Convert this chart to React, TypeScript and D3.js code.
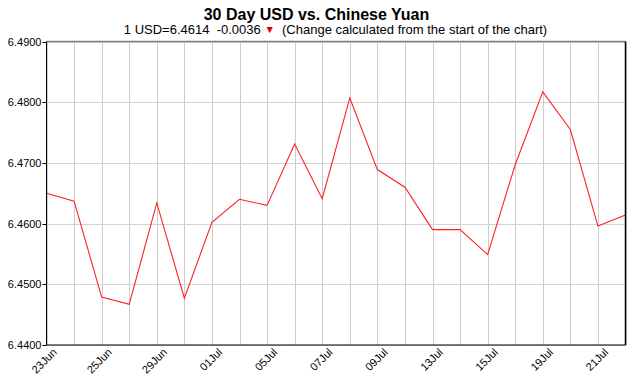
import React from "react";
import * as d3 from "d3";

const dates = ["23Jun","24Jun","25Jun","28Jun","29Jun","30Jun","01Jul","02Jul","05Jul","06Jul","07Jul","08Jul","09Jul","12Jul","13Jul","14Jul","15Jul","16Jul","19Jul","20Jul","21Jul","22Jul"];
const rates = [6.4650,6.4637,6.4479,6.4467,6.4634,6.4477,6.4602,6.4640,6.4630,6.4731,6.4641,6.4807,6.4689,6.4660,6.4590,6.4590,6.4549,6.4697,6.4817,6.4755,6.4596,6.4614];
const labeledDates = ["23Jun","25Jun","29Jun","01Jul","05Jul","07Jul","09Jul","13Jul","15Jul","19Jul","21Jul"];
const yTicks = [6.44,6.45,6.46,6.47,6.48,6.49];
const title = "30 Day USD vs. Chinese Yuan";
const subtitleA = "1 USD=6.4614  -0.0036 ";
const subtitleB = "  (Change calculated from the start of the chart)";

const W = 633, H = 378;
const M = { left: 46.5, right: 7.5, top: 41.5, bottom: 33 };

export default function App() {
  const x = d3.scalePoint<string>().domain(dates).range([M.left, W - M.right]);
  const y = d3.scaleLinear().domain([6.44, 6.49]).range([H - M.bottom, M.top]);
  const line = d3.line<number>().x((_, i) => x(dates[i])!).y((d) => y(d));
  const font = "Liberation Sans, Arial, Helvetica, sans-serif";
  const x0 = M.left, x1 = W - M.right, y0 = H - M.bottom, y1 = M.top;
  return (
    <div style={{ position: "absolute", left: 0, top: 0 }}>
      <svg width={W} height={H} style={{ display: "block", background: "#fff" }} fontFamily={font}>
        <text x={316.5} y={20} textAnchor="middle" fontSize={16} fontWeight="bold" fill="#000">{title}</text>
        <text y={34} fontSize={13} fill="#000" textAnchor="middle" x={335.5} style={{ whiteSpace: "pre" }}>
          <tspan>{subtitleA}</tspan>
          <tspan fill="#e00000" fontSize={10.5} dy={-1}>{"\u25BC"}</tspan>
          <tspan dy={1}>{subtitleB}</tspan>
        </text>
        {dates.map((d) => (
          <line key={d} x1={Math.round(x(d)!) + 0.5} x2={Math.round(x(d)!) + 0.5} y1={y1} y2={y0} stroke="#cccccc" strokeWidth={1} />
        ))}
        {yTicks.map((t) => (
          <line key={t} x1={x0} x2={x1} y1={Math.round(y(t)) + 0.5} y2={Math.round(y(t)) + 0.5} stroke="#d4d4d4" strokeWidth={1} />
        ))}
        <path d={line(rates)!} fill="none" stroke="#ff2020" strokeWidth={1.1} />
        <line x1={x0} x2={x1} y1={y1} y2={y1} stroke="#808080" strokeWidth={1.5} />
        <line x1={x1} x2={x1} y1={y1} y2={y0} stroke="#000" strokeWidth={1.5} />
        <line x1={x0} x2={x0} y1={y1} y2={y0} stroke="#000" strokeWidth={1} />
        <line x1={x0} x2={x1} y1={y0} y2={y0} stroke="#000" strokeWidth={1.2} />
        {yTicks.map((t) => (
          <g key={"yt" + t}>
            <line x1={x0 - 4} x2={x0} y1={Math.round(y(t)) + 0.5} y2={Math.round(y(t)) + 0.5} stroke="#000" strokeWidth={1} />
            <text x={x0 - 5} y={y(t) + 4} textAnchor="end" fontSize={11} fill="#000">{t.toFixed(4)}</text>
          </g>
        ))}
        {labeledDates.map((d) => (
          <text key={"xl" + d} transform={`translate(${x(d)! + 11},${y0 + 8}) rotate(-45)`} textAnchor="end" fontSize={11} fill="#000">{d}</text>
        ))}
      </svg>
    </div>
  );
}
